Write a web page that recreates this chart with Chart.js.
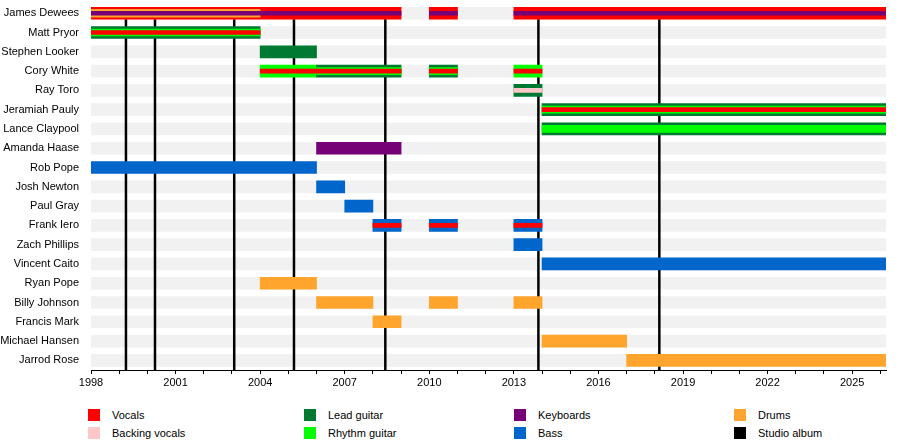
<!DOCTYPE html>
<html><head><meta charset="utf-8">
<script src="https://cdn.jsdelivr.net/npm/chart.js@4"></script>
<style>
body{margin:0;background:#fff;font-family:"Liberation Sans",Arial,sans-serif;overflow:hidden;}
#wrap{position:absolute;top:-7px;left:0;width:900px;height:400px;}
#legend{position:absolute;top:406px;left:0;width:900px;height:34px;font-size:11px;color:#000;}
.li{position:absolute;display:flex;align-items:center;height:14px;}
.sw{width:12px;height:12px;margin-right:12px;}
</style></head>
<body>
<div id="wrap"><canvas id="c" width="900" height="400"></canvas></div>
<div id="legend"></div>
<script>
const PRESENT = 2026.2;
const members = ['James Dewees','Matt Pryor','Stephen Looker','Cory White','Ray Toro','Jeramiah Pauly','Lance Claypool','Amanda Haase','Rob Pope','Josh Newton','Paul Gray','Frank Iero','Zach Phillips','Vincent Caito','Ryan Pope','Billy Johnson','Francis Mark','Michael Hansen','Jarrod Rose'];
const xTickLabels = [1998,2001,2004,2007,2010,2013,2016,2019,2022,2025];
const studioAlbums = [1999.24,2000.27,2003.08,2005.2,2008.44,2013.87,2018.16];

// primary (full-height) roles
const vocalsMain = [['James Dewees',1998,2009],['James Dewees',2010,2011],['James Dewees',2013,PRESENT]];
const leadGuitarMain = [['Matt Pryor',1998,2004],['Stephen Looker',2004,2006],['Cory White',2006,2009],['Cory White',2010,2011],['Ray Toro',2013,2014],['Jeramiah Pauly',2014,PRESENT],['Lance Claypool',2014,PRESENT]];
const rhythmGuitarMain = [['Cory White',2004,2006],['Cory White',2013,2014]];
const keyboardsMain = [['Amanda Haase',2006,2009]];
const bassMain = [['Rob Pope',1998,2006],['Josh Newton',2006,2007],['Paul Gray',2007,2008],['Frank Iero',2008,2009],['Frank Iero',2010,2011],['Frank Iero',2013,2014],['Zach Phillips',2013,2014],['Vincent Caito',2014,PRESENT]];
const drumsMain = [['Ryan Pope',2004,2006],['Billy Johnson',2006,2008],['Billy Johnson',2010,2011],['Billy Johnson',2013,2014],['Francis Mark',2008,2009],['Michael Hansen',2014,2017],['Jarrod Rose',2017,PRESENT]];
// secondary roles (stripes)
const drumsSecondary = [['James Dewees',1998,2004]];
const rhythmGuitarSecondary = [['Matt Pryor',1998,2004],['Cory White',2006,2009],['Cory White',2010,2011],['Jeramiah Pauly',2014,PRESENT],['Lance Claypool',2014,PRESENT]];
const vocalsSecondary = [['Matt Pryor',1998,2004],['Cory White',2004,2006],['Cory White',2006,2009],['Cory White',2010,2011],['Cory White',2013,2014],['Jeramiah Pauly',2014,PRESENT],['Frank Iero',2008,2009],['Frank Iero',2010,2011],['Frank Iero',2013,2014]];
const backingVocalsSecondary = [['Ray Toro',2013,2014]];
const keyboardsSecondary = [['James Dewees',1998,2009],['James Dewees',2010,2011],['James Dewees',2013,PRESENT]];

const C = {vocals:'#ff0000',backing:'#ffc8c8',lead:'#007a33',rhythm:'#00ff00',keys:'#760076',bass:'#0066cc',drums:'#ffa42c',album:'#000000',grey:'#f1f1f1'};

function pts(arr){return arr.map(r=>({x:[r[1],r[2]],y:r[0]}));}
function ds(arr,color,thick,order){return {data:pts(arr),backgroundColor:color,barThickness:thick,order:order,borderWidth:0,grouped:false};}

const datasets = [
  ds(members.map(m=>[m,1998,PRESENT]),C.grey,12,100),
  ds(vocalsMain,C.vocals,12,50),ds(leadGuitarMain,C.lead,12,50),ds(rhythmGuitarMain,C.rhythm,12,50),
  ds(keyboardsMain,C.keys,12,50),ds(bassMain,C.bass,12,50),ds(drumsMain,C.drums,12,50),
  ds(drumsSecondary,C.drums,8,40),ds(rhythmGuitarSecondary,C.rhythm,7,40),
  ds(vocalsSecondary,C.vocals,4,30),ds(backingVocalsSecondary,C.backing,4,30),ds(keyboardsSecondary,C.keys,4,30)
];

const albumLines = {id:'albums',afterDatasetDraw(chart,args){
  if(args.index!==0)return;
  const ctx=chart.ctx,x=chart.scales.x,y=chart.scales.y;
  const top=y.getPixelForValue(0)+6, bot=chart.chartArea.bottom;
  ctx.save();ctx.strokeStyle=C.album;ctx.lineWidth=2.5;
  studioAlbums.forEach(v=>{const px=x.getPixelForValue(v);ctx.beginPath();ctx.moveTo(px,top);ctx.lineTo(px,bot);ctx.stroke();});
  ctx.restore();
}};

new Chart(document.getElementById('c'),{
  type:'bar',
  data:{labels:members,datasets},
  plugins:[albumLines],
  options:{
    indexAxis:'y',responsive:false,animation:false,
    layout:{padding:{top:2,right:14,left:0,bottom:0}},
    plugins:{legend:{display:false},tooltip:{enabled:false}},
    scales:{
      y:{type:'category',offset:true,grid:{display:false},border:{display:false},
         ticks:{color:'#000',font:{family:'Liberation Sans',size:11},padding:4},
         afterFit(s){s.width=91;}},
      x:{type:'linear',min:1998,max:PRESENT,
         border:{display:true,color:'#000',width:1},
         grid:{drawOnChartArea:false,color:'#000',tickLength:4},
         afterBuildTicks(s){const t=[];for(let v=1998;v<=2026;v++)t.push({value:v});s.ticks=t;},
         ticks:{autoSkip:false,maxRotation:0,color:'#000',font:{family:'Liberation Sans',size:11},padding:2,
           callback:v=>xTickLabels.includes(v)?String(v):''},
         afterFit(s){s.height=23;}}
    }
  }
});

const legendItems=[['Vocals',C.vocals,88,408],['Backing vocals',C.backing,88,426],['Lead guitar',C.lead,304,408],['Rhythm guitar',C.rhythm,304,426],['Keyboards',C.keys,514,408],['Bass',C.bass,514,426],['Drums',C.drums,734,408],['Studio album',C.album,734,426]];
const lg=document.getElementById('legend');
legendItems.forEach(([t,c,x,y])=>{const d=document.createElement('div');d.className='li';d.style.left=x+'px';d.style.top=(y-406)+'px';d.innerHTML='<div class="sw" style="background:'+c+'"></div><span>'+t+'</span>';lg.appendChild(d);});
</script>
</body></html>
